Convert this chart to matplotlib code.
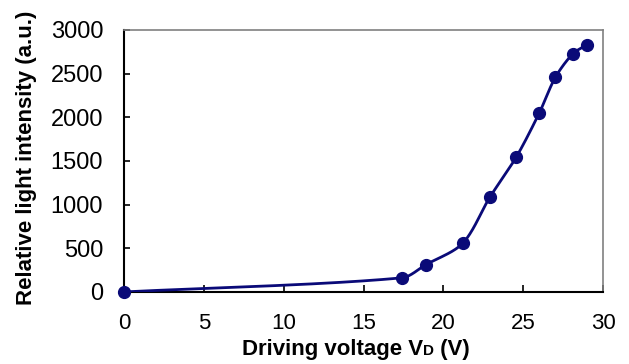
import numpy as np
import matplotlib
matplotlib.use("Agg")
from matplotlib import pyplot as plt
from matplotlib.offsetbox import TextArea, HPacker, AnchoredOffsetbox

plt.rcParams['font.family'] = ['Liberation Sans', 'DejaVu Sans']

# data
voltage = [0, 17.4, 18.9, 21.2, 22.9, 24.55, 26.0, 27.0, 28.1, 29.0]
intensity = [0, 161, 312, 556, 1083, 1541, 2049, 2455, 2726, 2831]
x_ticks = [0, 5, 10, 15, 20, 25, 30]
y_ticks = [0, 500, 1000, 1500, 2000, 2500, 3000]

navy = '#0a0a78'


def smooth(xs, ys, n=40):
    # smoothed line: bezier through each pair of points, handles kept short
    # (done in axis-normalised space so it doesn't overshoot)
    sc = np.array([30 / 1.8, 3000.0])
    p = np.column_stack([xs, ys]).astype(float) / sc
    m = len(p)
    tang = []
    for i in range(m):
        a = p[i - 1] if i > 0 else p[i]
        b = p[i + 1] if i + 1 < m else p[i]
        d = b - a
        tang.append(d / np.linalg.norm(d))
    out = []
    for i in range(m - 1):
        L = np.linalg.norm(p[i + 1] - p[i])
        c1 = p[i] + tang[i] * L * 0.3
        c2 = p[i + 1] - tang[i + 1] * L * 0.3
        t = np.linspace(0, 1, n)[:, None]
        seg = ((1 - t) ** 3 * p[i] + 3 * (1 - t) ** 2 * t * c1
               + 3 * (1 - t) * t ** 2 * c2 + t ** 3 * p[i + 1])
        out.append(seg)
    out = np.vstack(out) * sc
    return out[:, 0], out[:, 1]


fig = plt.figure(figsize=(6.29, 3.64), dpi=100)
ax = fig.add_axes([0.197, 0.198, 0.762, 0.72])

sx, sy = smooth(voltage, intensity)
ax.plot(sx, sy, color=navy, lw=2, zorder=3)
ax.plot(voltage, intensity, 'o', color=navy, ms=8.5, zorder=4, clip_on=False)

ax.set_xlim(0, 30)
ax.set_ylim(0, 3000)
ax.set_xticks(x_ticks)
ax.set_yticks(y_ticks)
ax.tick_params(axis='x', direction='in', length=5, width=1.2, pad=15, labelsize=16)
ax.tick_params(axis='y', direction='in', length=4, width=1.2, pad=15, labelsize=17)

for s in ['left', 'bottom']:
    ax.spines[s].set_linewidth(1.5)
    ax.spines[s].set_color('black')
for s in ['top', 'right']:
    ax.spines[s].set_linewidth(1.2)
    ax.spines[s].set_color('#808080')

ax.set_ylabel('Relative light intensity (a.u.)', fontsize=16, fontweight='bold')
ax.yaxis.set_label_coords(-0.182, 0.51)

# x label with small "D" on baseline
fp = dict(fontsize=16, fontweight='bold')
parts = [TextArea('Driving voltage V', textprops=fp),
         TextArea('D', textprops=dict(fontsize=11, fontweight='bold')),
         TextArea(' (V)', textprops=fp)]
box = HPacker(children=parts, align='baseline', pad=0, sep=0)
anch = AnchoredOffsetbox(loc='upper center', child=box, pad=0, frameon=False,
                         bbox_to_anchor=(0.484, -0.178), bbox_transform=ax.transAxes,
                         borderpad=0)
ax.add_artist(anch)

fig.savefig('out.png', dpi=100)
